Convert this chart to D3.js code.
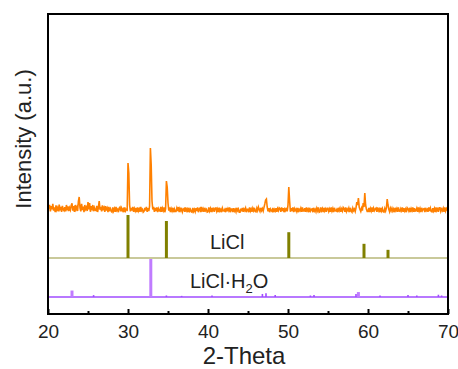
<!DOCTYPE html>
<html><head><meta charset="utf-8">
<script src="https://cdn.jsdelivr.net/npm/d3@7"></script>
<style>body{margin:0;background:#fff}svg{display:block;font-family:"Liberation Sans",Arial,sans-serif}</style>
</head><body>
<svg id="c" width="458" height="369"></svg>
<script>
// Measured pattern: 2-theta from 20.0 to 70.0, step 0.1, counts
const thetaStart = 20.0, thetaStep = 0.1;
const sampleCounts = [
 150,122,141,108,135,118,146,112,128,104,
 138,115,126,108,142,120,131,105,136,117,
 112,129,108,140,121,133,110,126,115,138,
 148,112,135,106,140,118,129,110,158,180,
 125,108,146,115,132,104,140,119,128,110,
 155,118,150,106,134,122,140,109,126,114,
 112,136,105,128,160,116,130,108,138,120,
 128,106,134,112,124,105,130,115,122,108,
 104,128,110,122,106,130,112,118,104,125,
 130,108,124,112,120,104,128,110,118,115,
 350,300,140,108,126,112,130,106,122,110,
 125,104,128,110,120,106,130,112,118,104,
 108,126,112,130,106,124,110,135,425,340,
 160,118,130,106,125,110,128,104,122,112,
 110,130,106,124,112,128,104,120,260,230,
 150,112,128,105,122,110,126,104,120,108,
 108,124,110,130,104,122,112,126,106,118,
 122,106,128,112,120,104,126,110,118,106,
 104,126,108,118,106,124,110,128,104,120,
 124,105,130,108,120,106,126,112,118,104,
 106,128,110,122,104,126,112,120,106,124,
 125,108,120,105,127,110,118,104,124,112,
 110,118,104,126,108,122,112,128,104,120,
 120,105,124,110,118,106,126,112,120,104,
 104,122,108,126,106,120,112,124,104,118,
 118,104,128,110,120,106,124,112,126,108,
 106,124,112,130,118,108,126,112,122,110,
 128,145,165,170,130,108,124,104,120,112,
 108,126,104,118,110,124,106,122,112,126,
 122,106,128,110,124,104,120,112,126,108,
 140,230,160,106,124,110,128,104,122,112,
 120,108,126,104,118,112,124,106,128,110,
 110,124,106,128,112,120,104,126,110,118,
 120,104,126,110,118,106,124,112,128,104,
 106,128,112,122,104,126,110,120,106,124,
 124,108,120,106,128,110,122,104,126,112,
 110,118,104,126,112,124,106,120,110,128,
 122,106,128,108,120,112,124,104,126,110,
 104,124,112,120,108,126,155,140,175,130,
 118,108,124,112,150,130,200,140,120,108,
 108,126,104,122,110,128,106,124,112,120,
 124,106,128,112,120,104,126,110,122,106,
 104,122,110,126,170,140,118,106,124,112,
 124,110,120,104,126,112,122,106,128,110,
 108,122,112,128,106,124,110,120,104,126,
 120,110,126,104,122,112,128,106,124,110,
 112,124,106,128,110,122,104,126,112,120,
 122,104,126,112,118,106,128,110,124,108,
 106,124,110,122,104,128,112,120,106,126,
 126,108,120,112,124,106,128,110,122,114,
 112
];
// LiCl reference pattern (2-theta, relative intensity)
const liclTheta = [30.0, 34.8, 50.1, 59.5, 62.5];
const liclInt   = [100, 86, 60, 33, 19];
// LiCl·H2O reference pattern
const hydTheta = [23.0, 25.7, 32.85, 34.8, 36.7, 40.5, 46.8, 47.25, 48.4, 52.8, 53.25, 58.5, 58.8, 61.5, 65.0, 66.1, 68.8, 69.2];
const hydInt   = [17, 5, 100, 4, 3, 4, 8, 10, 5, 4, 5, 8, 13, 4, 5, 4, 6, 4];
const xTicks = [20, 30, 40, 50, 60, 70];
const xMinor = [25, 35, 45, 55, 65];

const svg = d3.select("#c");
const x = d3.scaleLinear().domain([20, 70]).range([48, 448]);
const yS = d3.scaleLinear().domain([100, 600]).range([213, 113]);
const yL = d3.scaleLinear().domain([0, 100]).range([258, 215]);
const yH = d3.scaleLinear().domain([0, 100]).range([297, 259]);

const sample = sampleCounts.map((c, i) => ({t: thetaStart + i * thetaStep, c}));
const licl = liclTheta.map((t, i) => ({t, v: liclInt[i]}));
const hyd = hydTheta.map((t, i) => ({t, v: hydInt[i]}));

// sample pattern
svg.append("path").datum(sample)
  .attr("fill", "none").attr("stroke", "#ff8000").attr("stroke-width", 1.6)
  .attr("d", d3.line().x(d => x(d.t)).y(d => yS(d.c)));

// LiCl baseline and sticks
svg.append("line").attr("x1", x(20)).attr("x2", x(70)).attr("y1", yL(0)).attr("y2", yL(0))
  .attr("stroke", "#c9c99a").attr("stroke-width", 2);
svg.selectAll(".licl").data(licl).join("line")
  .attr("x1", d => x(d.t)).attr("x2", d => x(d.t))
  .attr("y1", yL(0)).attr("y2", d => yL(d.v))
  .attr("stroke", "#808000").attr("stroke-width", 3);

// LiCl·H2O baseline and sticks
svg.append("line").attr("x1", x(20)).attr("x2", x(70)).attr("y1", yH(0)).attr("y2", yH(0))
  .attr("stroke", "#a04cff").attr("stroke-width", 1.6);
svg.selectAll(".hyd").data(hyd).join("line")
  .attr("x1", d => x(d.t)).attr("x2", d => x(d.t))
  .attr("y1", yH(0)).attr("y2", d => yH(d.v))
  .attr("stroke", d => d.v > 10 ? "#c07cff" : "#a04cff")
  .attr("stroke-width", d => d.v > 10 ? 3 : 1.6);

// labels
svg.append("text").attr("x", 210).attr("y", 249).attr("font-size", 20).attr("fill", "#222").text("LiCl");
const h = svg.append("text").attr("x", 190).attr("y", 288).attr("font-size", 20).attr("fill", "#222");
h.append("tspan").text("LiCl·H");
h.append("tspan").attr("font-size", 13).attr("dy", 5).text("2");
h.append("tspan").attr("dy", -5).text("O");

// frame
svg.append("rect").attr("x", 48).attr("y", 14).attr("width", 400).attr("height", 300)
  .attr("fill", "none").attr("stroke", "#000").attr("stroke-width", 2);

// x axis
const ax = svg.append("g").attr("transform", "translate(0,314)")
  .call(d3.axisBottom(x).tickValues(xTicks).tickSizeInner(-5).tickSizeOuter(0).tickPadding(11).tickFormat(d3.format("d")));
ax.select(".domain").remove();
ax.selectAll("line").attr("stroke-width", 2);
ax.selectAll("text").attr("font-size", 19).attr("fill", "#222").attr("font-family", "Liberation Sans, Arial, sans-serif");
const am = svg.append("g").attr("transform", "translate(0,314)")
  .call(d3.axisBottom(x).tickValues(xMinor).tickSizeInner(-3).tickSizeOuter(0).tickFormat(""));
am.select(".domain").remove();
am.selectAll("line").attr("stroke-width", 2);

// titles
svg.append("text").attr("x", 244).attr("y", 364).attr("text-anchor", "middle")
  .attr("font-size", 24).attr("fill", "#222").text("2-Theta");
svg.append("text").attr("transform", "translate(31,139) rotate(-90)").attr("text-anchor", "middle")
  .attr("font-size", 22).attr("fill", "#222").text("Intensity (a.u.)");
</script>
</body></html>
